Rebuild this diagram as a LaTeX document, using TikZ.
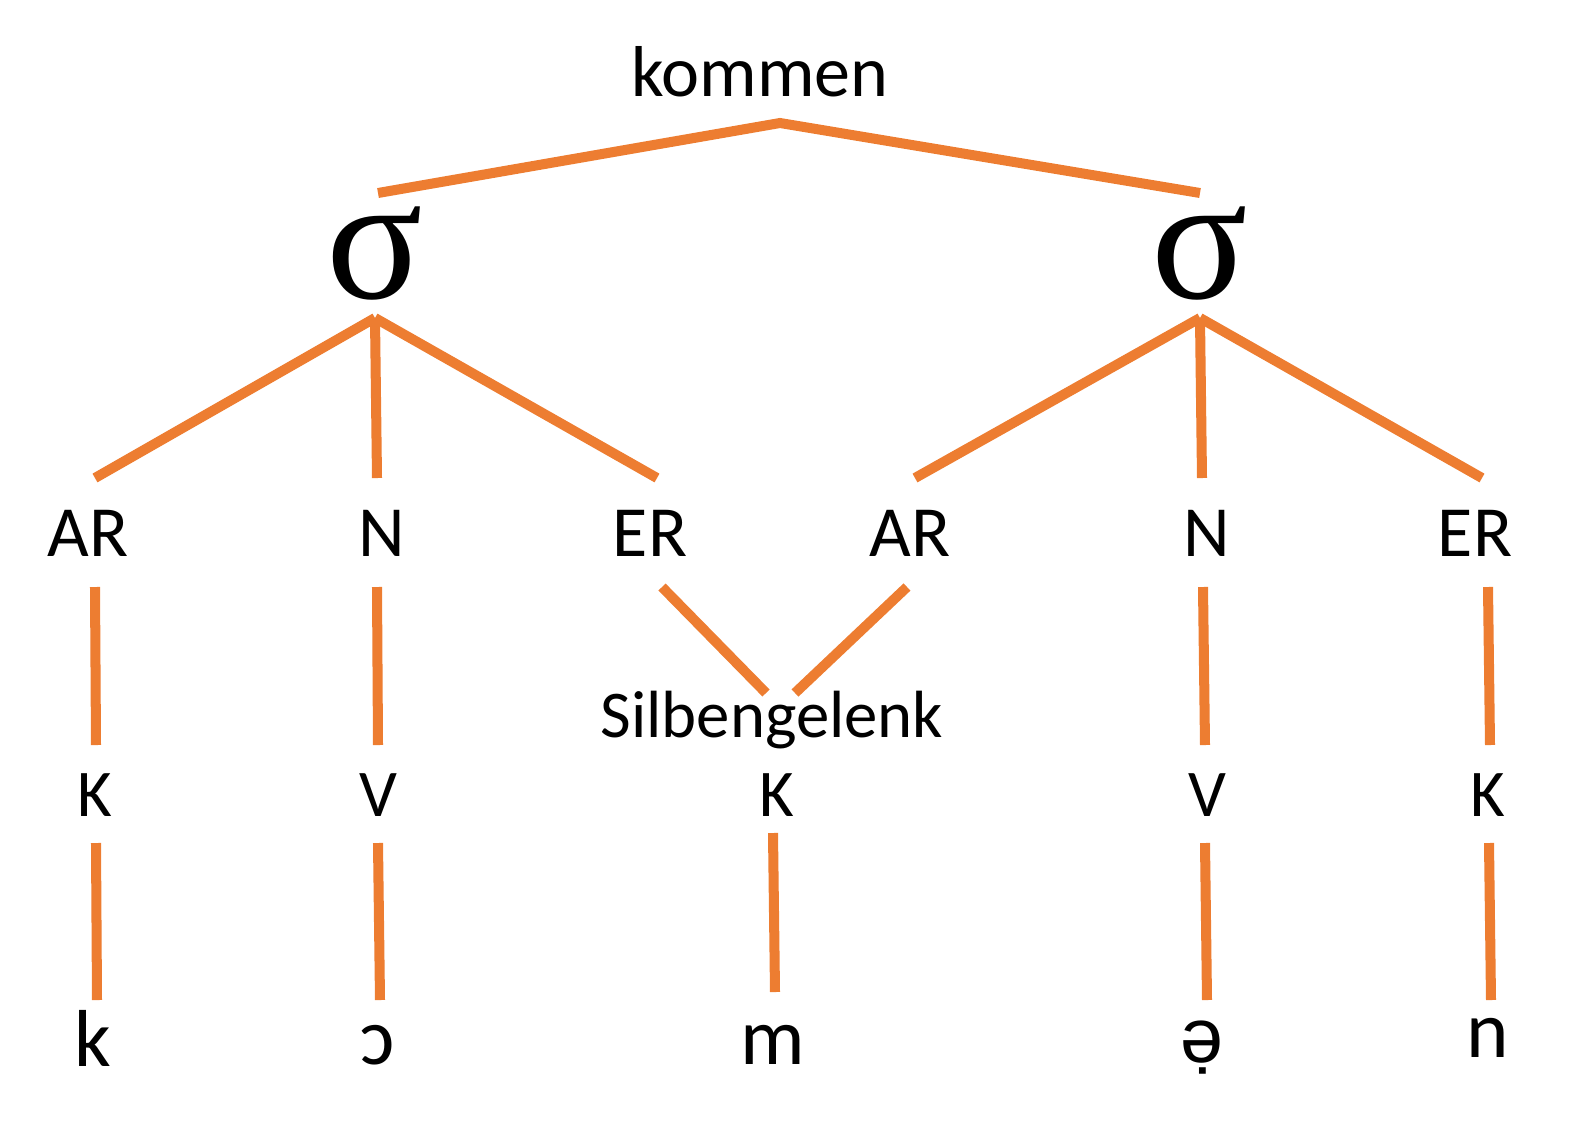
\documentclass[tikz,border=0pt]{standalone}
\usepackage{fontspec}
\setmainfont{Carlito}
\newfontfamily\sigfont{Liberation Serif}
\newfontfamily\ipafont{Liberation Sans}
\definecolor{lineor}{HTML}{ED7D31}
\begin{document}
\begin{tikzpicture}[x=0.02cm,y=-0.02cm,
  ln/.style={draw=lineor,line width=5.7pt},
  lab/.style={inner sep=0pt,font=\fontsize{41}{41}\selectfont},
  sml/.style={inner sep=0pt,font=\fontsize{38}{38}\selectfont},
  big/.style={inner sep=0pt,font=\fontsize{46}{46}\selectfont},
  sig/.style={inner sep=0pt,font=\sigfont\fontsize{102}{102}\selectfont}]
\useasboundingbox (0,0) rectangle (1569,1147);
\node[lab] (w) at (760,72) {kommen};
\node[sig] (s1) at (375,254) {σ};
\node[sig] (s2) at (1200,254) {σ};
\node[lab] (ar1) at (88,533) {AR};
\node[lab] (n1) at (382,533) {N};
\node[lab] (er1) at (650,533) {ER};
\node[lab] (ar2) at (910,533) {AR};
\node[lab] (n2) at (1207,533) {N};
\node[lab] (er2) at (1475,533) {ER};
\node[sml] (sg) at (772,720) {Silbengelenk};
\node[sml] (k1) at (95,795) {K};
\node[sml] (v1) at (378,795) {V};
\node[sml] (k2) at (777,795) {K};
\node[sml] (v2) at (1207,795) {V};
\node[sml] (k3) at (1488,795) {K};
\node[big] (p1) at (93,1038) {k};
\node[big] (p2) at (378,1045) {ɔ};
\node[big] (p3) at (773,1045) {m};
\node[big,font=\ipafont\fontsize{44}{44}\selectfont] (p4) at (1202,1048) {ə̣};
\node[big] (p5) at (1488,1038) {n};
% connector end points
\coordinate (top) at (780,123);
\coordinate (s1t) at (378,193); \coordinate (s2t) at (1200,193);
\coordinate (s1b) at (375,318); \coordinate (s2b) at (1200,318);
\draw[ln] (s1t) -- (top) -- (s2t);
\draw[ln] (s1b) -- (95,478); \draw[ln] (s1b) -- (377,478); \draw[ln] (s1b) -- (657,478);
\draw[ln] (s2b) -- (915,478); \draw[ln] (s2b) -- (1202,478); \draw[ln] (s2b) -- (1482,478);
\draw[ln] (95,587) -- (96,745);
\draw[ln] (377,587) -- (378,745);
\draw[ln] (662,587) -- (766,693);
\draw[ln] (907,587) -- (795,693);
\draw[ln] (1203,587) -- (1205,745);
\draw[ln] (1488,587) -- (1490,745);
\draw[ln] (96,843) -- (97,1000);
\draw[ln] (378,843) -- (380,1000);
\draw[ln] (773,833) -- (775,992);
\draw[ln] (1205,843) -- (1207,1000);
\draw[ln] (1489,843) -- (1491,1000);
\end{tikzpicture}
\end{document}
